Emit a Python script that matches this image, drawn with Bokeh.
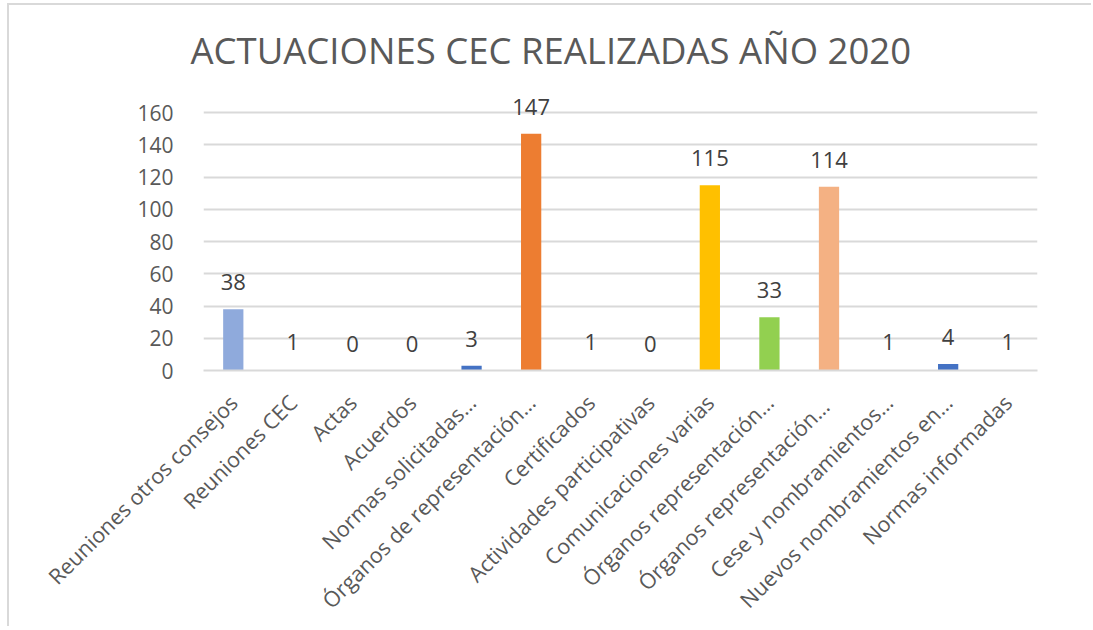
from bokeh.plotting import figure
from bokeh.models import ColumnDataSource, LabelSet, FactorRange, Range1d, FixedTicker
from bokeh.embed import file_html
from bokeh.resources import INLINE
from bokeh.core.properties import value
import math

categories = [
    "Reuniones otros consejos",
    "Reuniones CEC",
    "Actas",
    "Acuerdos",
    "Normas solicitadas…",
    "Órganos de representación…",
    "Certificados",
    "Actividades participativas",
    "Comunicaciones varias",
    "Órganos representación…",
    "Órganos representación… ",
    "Cese y nombramientos…",
    "Nuevos nombramientos en…",
    "Normas informadas",
]
values = [38, 1, 0, 0, 3, 147, 1, 0, 115, 33, 114, 1, 4, 1]
colors = ["#8FAADC", "#FFFFFF", "#FFFFFF", "#FFFFFF", "#4472C4", "#ED7D31", "#FFFFFF",
          "#FFFFFF", "#FFC000", "#92D050", "#F4B183", "#FFFFFF", "#4472C4", "#FFFFFF"]
y_ticks = [0, 20, 40, 60, 80, 100, 120, 140, 160]
title_text = "ACTUACIONES CEC REALIZADAS AÑO 2020"

src = ColumnDataSource(dict(cat=categories, val=values, col=colors,
                            lab=[str(v) for v in values]))

FONT = "Open Sans"
p = figure(width=1084, height=623, x_range=FactorRange(*categories),
           y_range=Range1d(0, 180), output_backend="svg", toolbar_location=None,
           min_border_left=194, min_border_right=56, min_border_top=75,
           min_border_bottom=258)
p.outline_line_color = None
p.background_fill_color = "white"
p.border_fill_color = "white"
p.styles = {"margin-left": "9px", "margin-top": "5px", "vertical-align": "top",
            "box-shadow": "-2px -2px 0 0 #D9D9D9"}

p.title.text = title_text
p.title.align = "left"
p.title.offset = -13
p.title.text_font = FONT
p.title.text_font_style = "normal"
p.title.text_font_size = "36.5px"
p.title.text_color = "#595959"
p.title.standoff = 12

p.vbar(x="cat", top="val", width=0.34, source=src, fill_color="col", line_color=None)

labels = LabelSet(x="cat", y="val", text="lab", source=src, text_align="center",
                  text_baseline="alphabetic", y_offset=19, text_font=value(FONT),
                  text_font_size="22px", text_color="#404040")
p.add_layout(labels)

p.xgrid.grid_line_color = None
p.ygrid.grid_line_color = "#D9D9D9"
p.ygrid.grid_line_width = 2
p.yaxis.ticker = FixedTicker(ticks=y_ticks)
p.yaxis.axis_line_color = None
p.yaxis.major_tick_line_color = None
p.yaxis.minor_tick_line_color = None
p.yaxis.major_label_text_font = FONT
p.yaxis.major_label_text_font_size = "21px"
p.yaxis.major_label_text_color = "#595959"
p.yaxis.major_label_standoff = 24

p.xaxis.axis_line_color = "#D9D9D9"
p.xaxis.axis_line_width = 2
p.xaxis.major_tick_line_color = None
p.xaxis.minor_tick_line_color = None
p.xaxis.major_label_orientation = math.pi / 4
p.xaxis.major_label_text_font = FONT
p.xaxis.major_label_text_font_size = "21.5px"
p.xaxis.major_label_text_color = "#595959"
p.xaxis.major_label_standoff = 22
p.x_range.range_padding = 0
p.x_range.factor_padding = 0

open("out.html", "w").write(file_html(p, INLINE))
